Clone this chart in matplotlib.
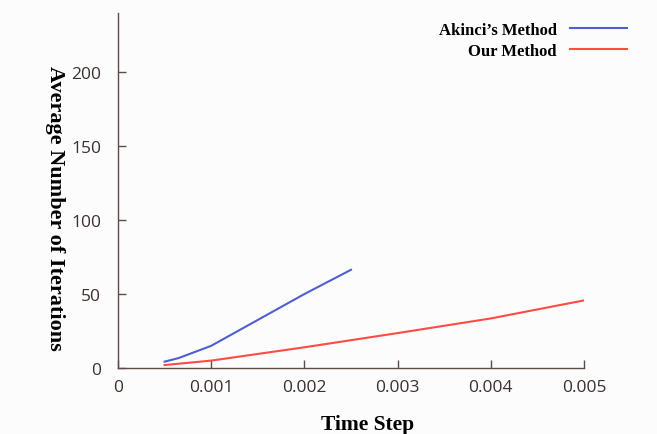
import matplotlib
matplotlib.use("Agg")
import matplotlib.pyplot as plt

# Data
akinci_x = [0.0005, 0.00065, 0.001, 0.0015, 0.002, 0.0025]
akinci_y = [4.3, 6.7, 15.0, 32.5, 50.0, 66.4]
our_x = [0.0005, 0.001, 0.002, 0.003, 0.004, 0.005]
our_y = [2.0, 5.0, 14.0, 23.6, 33.5, 45.7]
x_ticks = [0, 0.001, 0.002, 0.003, 0.004, 0.005]
x_tick_labels = ["0", "0.001", "0.002", "0.003", "0.004", "0.005"]
y_ticks = [0, 50, 100, 150, 200]

axis_col = "#5e4b43"
tick_text_col = "#3a302c"

fig = plt.figure(figsize=(6.57, 4.35), dpi=100)
fig.patch.set_facecolor("#fdfcfc")
ax = fig.add_axes([118/657, 66/435, (584-118)/657, (369-14)/435])
ax.set_facecolor("#fdfcfc")

ax.plot(akinci_x, akinci_y, color="#4f5fd0", lw=1.5, label="Akinci\u2019s Method")
ax.plot(our_x, our_y, color="#ff4a45", lw=1.5, label="Our Method")

ax.set_xlim(0, 0.005)
ax.set_ylim(0, 240)
ax.set_xticks(x_ticks)
ax.set_xticklabels(x_tick_labels)
ax.set_yticks(y_ticks)

for s in ["top", "right"]:
    ax.spines[s].set_visible(False)
for s in ["left", "bottom"]:
    ax.spines[s].set_color(axis_col)
    ax.spines[s].set_linewidth(1.0)
ax.tick_params(direction="in", length=6, width=1, color=axis_col,
               labelcolor=tick_text_col, labelsize=12.5)
ax.tick_params(axis="y", pad=12)
ax.tick_params(axis="x", pad=8)
for lab in ax.get_xticklabels() + ax.get_yticklabels():
    lab.set_family("Open Sans")

ax.set_xlabel("Time Step", family="Liberation Serif", fontweight="bold", fontsize=15.5)
ax.xaxis.set_label_coords((368-118)/466, -0.13)
ax.set_ylabel("Average Number of Iterations", family="Liberation Serif",
              fontweight="bold", fontsize=16, rotation=-90)
ax.yaxis.set_label_coords((45-118)/466, (369-208)/355)

leg = ax.legend(loc="upper right", bbox_to_anchor=(1.124, 1.017), frameon=False,
                markerfirst=False, handlelength=3.4, labelspacing=0.3,
                prop={"family": "Liberation Serif", "weight": "bold", "size": 12})

fig.savefig("out.png", dpi=100, facecolor=fig.get_facecolor())
